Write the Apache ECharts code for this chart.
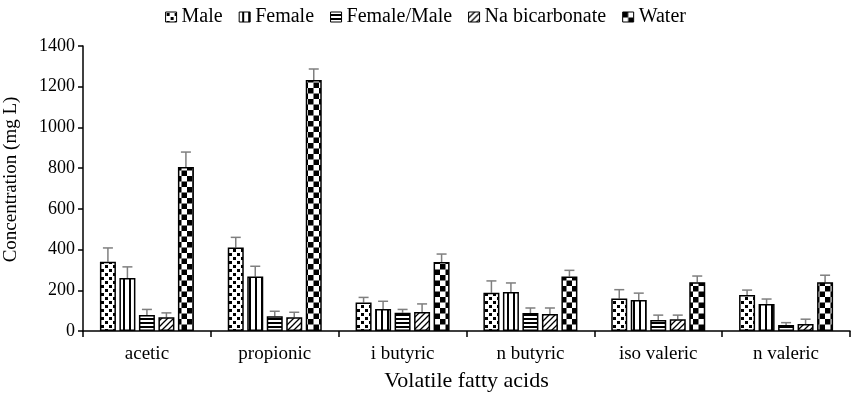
<!DOCTYPE html>
<html><head><meta charset="utf-8">
<script src="https://cdn.jsdelivr.net/npm/echarts@6/dist/echarts.min.js"></script>
<style>html,body{margin:0;padding:0;background:#fff}#c{width:851px;height:393px}</style>
</head><body><div id="c"></div>
<script>
const categories = ['acetic', 'propionic', 'i butyric', 'n butyric', 'iso valeric', 'n valeric'];
const seriesNames = ['Male', 'Female', 'Female/Male', 'Na bicarbonate', 'Water'];
const maleVals = [340, 410, 140, 188, 160, 177];
const femaleVals = [260, 268, 108, 192, 152, 133];
const fmVals = [78, 72, 90, 88, 54, 29];
const naVals = [67, 67, 93, 83, 58, 34];
const waterVals = [806, 1233, 339, 268, 240, 240];
const maleErr = [68, 50, 25, 58, 43, 24];
const femaleErr = [55, 50, 38, 44, 34, 24];
const fmErr = [28, 25, 16, 25, 24, 12];
const naErr = [22, 25, 40, 30, 20, 24];
const waterErr = [73, 54, 39, 30, 30, 34];
const yTicks = [0, 200, 400, 600, 800, 1000, 1200, 1400];

const values = [maleVals, femaleVals, fmVals, naVals, waterVals];
const errs = [maleErr, femaleErr, fmErr, naErr, waterErr];

function tile(w, h, draw) {
  const c = document.createElement('canvas');
  c.width = w; c.height = h;
  const g = c.getContext('2d');
  g.fillStyle = '#fff'; g.fillRect(0, 0, w, h);
  g.fillStyle = '#000'; g.strokeStyle = '#000';
  draw(g);
  return { image: c, repeat: 'repeat' };
}
const patterns = [
  tile(8, 8, g => { g.fillRect(1, 1, 3, 3); g.fillRect(5, 5, 3, 3); }),
  tile(6, 6, g => { g.fillRect(3, 0, 2, 6); }),
  tile(4, 4, g => { g.fillRect(0, 2, 4, 2); }),
  tile(6, 6, g => { g.lineWidth = 1.3; g.beginPath(); g.moveTo(-1, 7); g.lineTo(7, -1); g.moveTo(-4, 4); g.lineTo(4, -4); g.moveTo(2, 10); g.lineTo(10, 2); g.stroke(); }),
  tile(11, 11, g => { g.fillRect(0, 0, 5.5, 5.5); g.fillRect(5.5, 5.5, 5.5, 5.5); })
];

const BAR_W = 16, GAP = 3.5, STEP = BAR_W + GAP;
const font = 'Liberation Serif, Times New Roman, serif';

const series = [];
seriesNames.forEach((n, k) => {
  series.push({
    name: n, type: 'bar', data: values[k], barWidth: BAR_W, barGap: (GAP / BAR_W * 100) + '%',
    itemStyle: { color: patterns[k], borderColor: '#000', borderWidth: 1.5 },
    emphasis: { disabled: true }, z: 2
  });
});
seriesNames.forEach((n, k) => {
  series.push({
    name: 'err_' + k, type: 'custom', z: 1,
    data: categories.map((c, i) => [i, values[k][i], errs[k][i]]),
    encode: { x: 0, y: 1 },
    renderItem: (params, api) => {
      const i = api.value(0), v = api.value(1), e = api.value(2);
      const p0 = api.coord([i, v]);
      const p1 = api.coord([i, v + e]);
      const x = p0[0] + (k - 2) * STEP;
      const st = { stroke: '#7f7f7f', lineWidth: 1.5 };
      return { type: 'group', children: [
        { type: 'line', shape: { x1: x, y1: p0[1], x2: x, y2: p1[1] }, style: st },
        { type: 'line', shape: { x1: x - 5, y1: p1[1], x2: x + 5, y2: p1[1] }, style: st }
      ] };
    }
  });
});

const chart = echarts.init(document.getElementById('c'), null, { renderer: 'canvas' });
chart.setOption({
  animation: false,
  backgroundColor: '#fff',
  textStyle: { fontFamily: font, color: '#000' },
  legend: {
    data: seriesNames, top: 2, left: 'center', itemWidth: 11, itemHeight: 10, itemGap: 16,
    icon: 'rect',
    textStyle: { fontFamily: font, fontSize: 20, color: '#000' },
    itemStyle: { borderColor: '#000', borderWidth: 1 }
  },
  grid: { left: 83, right: 1, top: 46, bottom: 62, containLabel: false, outerBoundsMode: 'none' },
  xAxis: {
    type: 'category', data: categories,
    name: 'Volatile fatty acids', nameLocation: 'middle', nameGap: 39,
    nameTextStyle: { fontFamily: font, fontSize: 22, color: '#000' },
    axisLine: { lineStyle: { color: '#000', width: 1.5 } },
    axisTick: { show: true, length: 6, lineStyle: { color: '#000', width: 1.5 } },
    axisLabel: { fontFamily: font, fontSize: 19, color: '#000', margin: 14 }
  },
  yAxis: {
    type: 'value', min: yTicks[0], max: yTicks[yTicks.length - 1], interval: 200,
    name: 'Concentration (mg L)', nameLocation: 'middle', nameGap: 62,
    nameTextStyle: { fontFamily: font, fontSize: 19, color: '#000', padding: [0, 0, 0, 18] },
    axisLine: { show: true, lineStyle: { color: '#000', width: 1.5 } },
    axisTick: { show: true, length: 5, lineStyle: { color: '#000', width: 1.5 } },
    axisLabel: { fontFamily: font, fontSize: 18, color: '#000', margin: 8, formatter: v => String(v) },
    splitLine: { show: false }
  },
  series: series
});
</script></body></html>
